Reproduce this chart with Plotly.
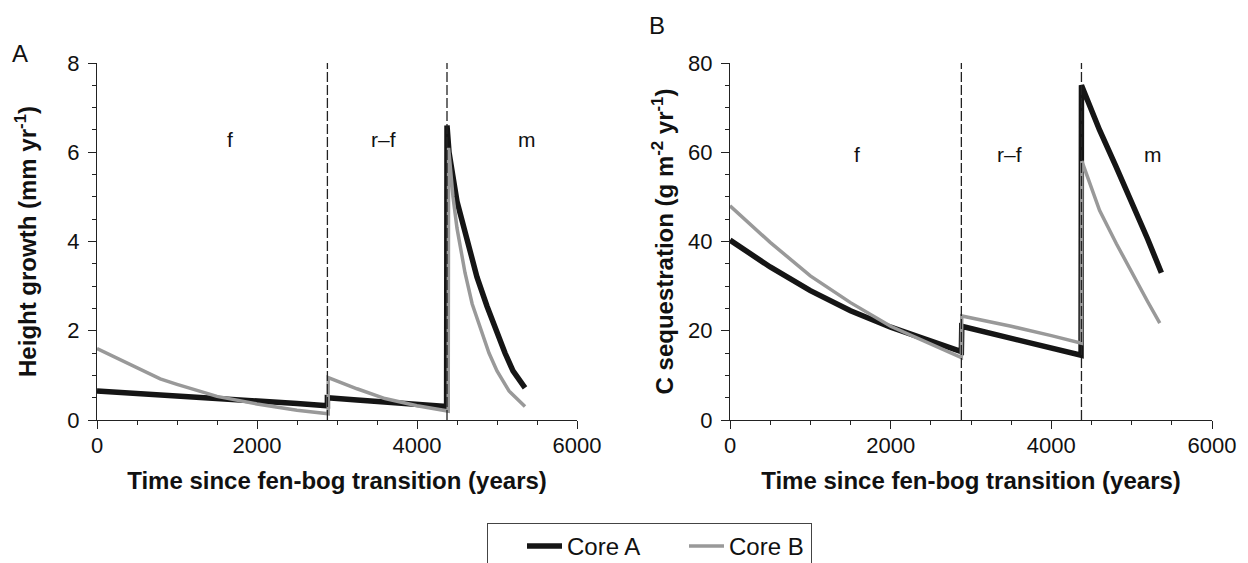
import plotly.graph_objects as go

# ---------------- data ----------------
# Panel A: height growth (mm/yr)
t_height_coreA = [0, 500, 1000, 1500, 2000, 2500, 2880, 2880, 3250, 3750, 4370, 4375, 4400,
                  4500, 4625, 4750, 4875, 5000, 5100, 5200, 5350]
height_coreA = [0.65, 0.60, 0.55, 0.49, 0.43, 0.37, 0.32, 0.50, 0.45, 0.38, 0.30, 6.6, 6.0,
                4.9, 4.0, 3.2, 2.55, 1.95, 1.5, 1.1, 0.72]

t_height_coreB = [0, 250, 500, 790, 1000, 1500, 2000, 2500, 2890, 2890, 3250, 3600, 4000, 4390,
                  4395, 4450, 4500, 4600, 4690, 4800, 4900, 5000, 5150, 5350]
height_coreB = [1.6, 1.38, 1.18, 0.92, 0.80, 0.53, 0.36, 0.22, 0.14, 0.95, 0.70, 0.48, 0.32, 0.20,
                6.1, 5.0, 4.3, 3.3, 2.6, 2.0, 1.5, 1.1, 0.65, 0.3]

# Panel B: C sequestration (g m-2 yr-1)
t_carbon_coreA = [0, 500, 1000, 1500, 2000, 2500, 2880, 2885, 3500, 4000, 4370, 4375,
                  4600, 4800, 5000, 5200, 5370]
carbon_coreA = [40.3, 34.3, 29.0, 24.5, 20.8, 17.6, 15.3, 21.0, 18.3, 16.1, 14.5, 75.0,
                65.0, 57.0, 49.0, 40.5, 33.0]

t_carbon_coreB = [0, 500, 1000, 1500, 2000, 2500, 2880, 2885, 3500, 4000, 4375, 4380,
                  4600, 4810, 5000, 5200, 5350]
carbon_coreB = [48.0, 39.8, 32.3, 26.3, 21.0, 17.0, 14.0, 23.3, 21.0, 18.9, 17.2, 58.0,
                47.0, 39.5, 33.0, 26.5, 21.7]

phase_boundaries = [2880, 4375]
phase_labels = ["f", "r\u2013f", "m"]
phase_label_x_A = [1660, 3575, 5375]
phase_label_x_B = [1580, 3480, 5260]

x_ticks = [0, 2000, 4000, 6000]
series_names = ["Core A", "Core B"]

# ---------------- styles ----------------
BLACK = "#151515"
GRAY = "#999999"
FONT = "Liberation Sans, Arial, sans-serif"

fig = go.Figure()

fig.add_trace(go.Scatter(x=t_height_coreA, y=height_coreA, mode="lines", name=series_names[0],
                         line=dict(color=BLACK, width=5.5), legendgroup="A",
                         xaxis="x", yaxis="y"))
fig.add_trace(go.Scatter(x=t_height_coreB, y=height_coreB, mode="lines", name=series_names[1],
                         line=dict(color=GRAY, width=3.5), legendgroup="B",
                         xaxis="x", yaxis="y"))
fig.add_trace(go.Scatter(x=t_carbon_coreA, y=carbon_coreA, mode="lines", name=series_names[0],
                         line=dict(color=BLACK, width=5.5), legendgroup="A", showlegend=False,
                         xaxis="x2", yaxis="y2"))
fig.add_trace(go.Scatter(x=t_carbon_coreB, y=carbon_coreB, mode="lines", name=series_names[1],
                         line=dict(color=GRAY, width=3.5), legendgroup="B", showlegend=False,
                         xaxis="x2", yaxis="y2"))

# dashed phase boundaries
for xr, yr in (("x", "y"), ("x2", "y2")):
    for b in phase_boundaries:
        fig.add_shape(type="line", xref=xr, yref=f"{yr} domain", x0=b, x1=b, y0=0, y1=1,
                      line=dict(color="#222222", width=1.3, dash="10px,3px"), layer="above")

# phase labels
for xs, yr, yv in ((phase_label_x_A, "y", 6.28), (phase_label_x_B, "y2", 59.5)):
    for lab, xv in zip(phase_labels, xs):
        fig.add_annotation(text=lab, x=xv, y=yv, xref="x" if yr == "y" else "x2", yref=yr,
                           showarrow=False, font=dict(size=21, color="#111", family=FONT))

# panel letters
fig.add_annotation(text="A", x=20 / 1248, y=1 - 54 / 563, xref="paper", yref="paper",
                   xanchor="center", yanchor="middle",
                   showarrow=False, font=dict(size=24, color="#111", family=FONT))
fig.add_annotation(text="B", x=657 / 1248, y=1 - 25 / 563, xref="paper", yref="paper",
                   xanchor="center", yanchor="middle",
                   showarrow=False, font=dict(size=24, color="#111", family=FONT))

ydom = [143 / 563, 500 / 563]
common_x = dict(range=[0, 6000], tickvals=x_ticks, ticks="outside", ticklen=8, tickwidth=1.2,
                tickcolor="#222", showline=True, linecolor="#222", linewidth=1.2,
                showgrid=False, zeroline=False, ticklabelstandoff=-3,
                minor=dict(dtick=500, ticks="outside", ticklen=4, tickwidth=1.2, tickcolor="#222"),
                tickfont=dict(size=22, color="#111", family=FONT),
                title=dict(text="<b>Time since fen-bog transition (years)</b>",
                           font=dict(size=24, color="#111", family=FONT), standoff=15))
common_y = dict(ticks="outside", ticklen=8, tickwidth=1.2, tickcolor="#222", showline=True,
                linecolor="#222", linewidth=1.2, showgrid=False, zeroline=False,
                ticklabelstandoff=4,
                tickfont=dict(size=22, color="#111", family=FONT))

fig.update_layout(
    width=1248, height=563,
    paper_bgcolor="white", plot_bgcolor="white",
    margin=dict(l=0, r=0, t=0, b=0, autoexpand=False),
    font=dict(family=FONT, color="#111"),
    xaxis=dict(domain=[97 / 1248, 577 / 1248], anchor="y", **common_x),
    xaxis2=dict(domain=[730 / 1248, 1212 / 1248], anchor="y2", **common_x),
    yaxis=dict(domain=ydom, anchor="x", range=[0, 8], dtick=2,
               minor=dict(dtick=0.5, ticks="outside", ticklen=4, tickwidth=1.2, tickcolor="#222"),
               title=dict(text="<b>Height growth (mm yr<sup>-1</sup>)</b>",
                          font=dict(size=24, color="#111", family=FONT), standoff=23),
               **common_y),
    yaxis2=dict(domain=ydom, anchor="x2", range=[0, 80], dtick=20,
                minor=dict(dtick=5, ticks="outside", ticklen=4, tickwidth=1.2, tickcolor="#222"),
                title=dict(text="<b>C sequestration (g m<sup>-2</sup> yr<sup>-1</sup>)</b>",
                           font=dict(size=24, color="#111", family=FONT), standoff=7),
                **common_y),
    showlegend=True,
    legend=dict(orientation="h", x=487 / 1248, y=1 - 523 / 563, xanchor="left", yanchor="top",
                bordercolor="#444", borderwidth=1, bgcolor="white",
                font=dict(size=24, color="#111", family=FONT), itemwidth=35,
                indentation=35, entrywidth=77),
)

fig.write_html("out.html", config={"displayModeBar": False},
               post_script="document.body.style.margin='0px';")
